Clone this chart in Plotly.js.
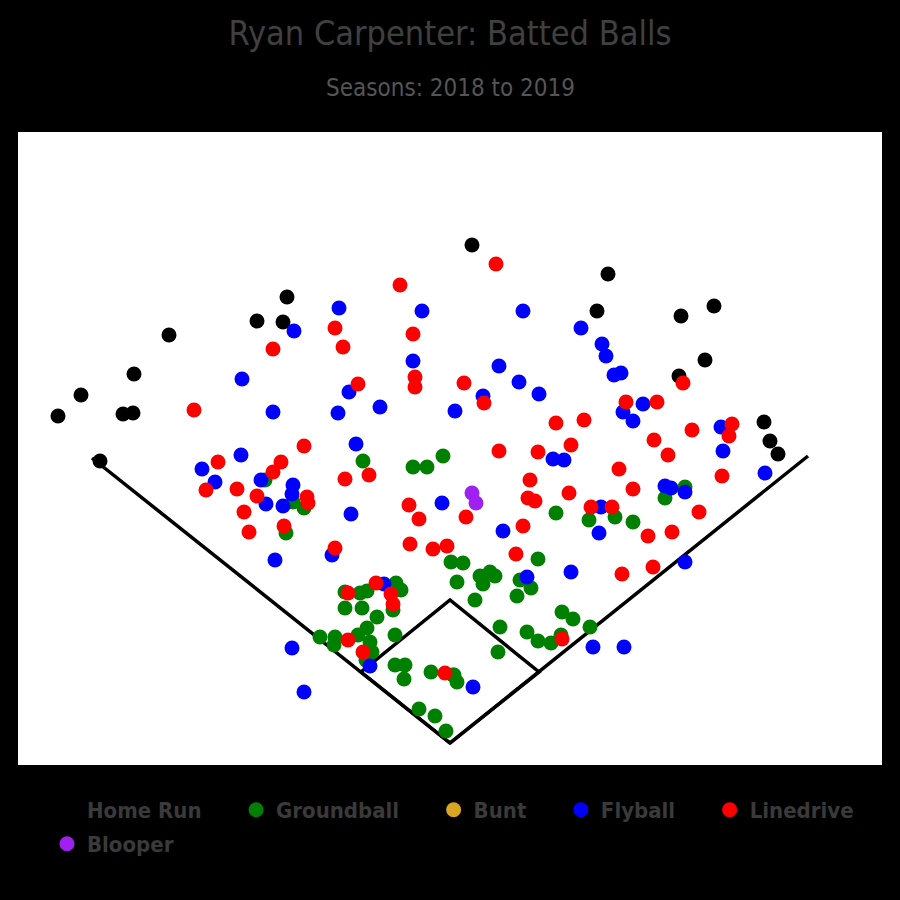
<!DOCTYPE html>
<html>
<head>
<meta charset="utf-8">
<script src="https://cdn.plot.ly/plotly-3.0.1.min.js"></script>
<style>html,body{margin:0;padding:0;background:#000;}#chart{width:900px;height:900px;}</style>
</head>
<body>
<div id="chart"></div>
<script>
// Field outline (foul lines + infield diamond), chart coordinates
const fieldX = [92, 450, 808, null, 450, 539, 450, 361, 450];
const fieldY = [458, 743, 456, null, 743, 672, 600, 672, 743];

// Batted balls by type
const hrX = [472,608,287,257,283,169,134,81,58,123,133,597,681,714,705,679,764,770,778,100];
const hrY = [245,274,297,321,322,335,374,395,416,414,413,311,316,306,360,376,422,441,454,461];

const gbX = [363,413,427,443,265,293,304,286,556,589,615,633,685,665,451,463,457,480,490,495,483,520,531,517,475,538,562,573,590,500,527,538,551,561,498,453,457,431,454,419,435,446,395,405,404,345,360,367,396,401,393,345,362,377,367,320,335,334,358,370,372,366,395];
const gbY = [461,467,467,456,480,502,508,533,513,520,517,522,487,498,562,563,582,576,572,576,584,580,588,596,600,559,612,619,627,627,632,641,643,635,652,675,682,672,675,709,716,731,665,665,679,592,593,591,583,590,610,608,608,617,628,637,637,645,635,642,652,660,635];

const buntX = [];
const buntY = [];

const flyX = [339,294,422,523,242,273,338,413,349,499,519,539,483,380,455,581,602,606,614,621,643,623,633,721,723,765,685,356,241,202,261,215,293,292,283,266,351,442,275,332,384,553,564,665,671,685,601,599,503,571,527,593,624,473,370,292,304];
const flyY = [308,331,311,311,379,412,413,361,392,366,382,394,396,407,411,328,344,356,375,373,404,412,421,427,451,473,562,444,455,469,480,482,485,494,506,504,514,503,560,555,584,459,460,486,488,492,507,533,531,572,577,647,647,687,666,648,692];

const ldX = [496,400,335,273,343,194,413,415,415,358,464,484,556,584,683,626,657,692,732,729,722,304,345,369,218,281,273,206,237,257,307,308,244,249,284,409,419,410,433,447,335,499,538,571,654,668,619,530,633,528,535,569,466,591,612,699,672,648,523,516,622,653,348,376,391,393,348,363,562,445];
const ldY = [264,285,328,349,347,410,334,377,387,384,383,403,423,420,383,402,402,430,424,436,476,446,479,475,462,462,472,490,489,496,497,503,512,532,526,505,519,544,549,546,548,451,452,445,440,455,469,480,489,498,501,493,517,507,507,512,532,536,526,554,574,567,593,583,594,604,640,652,639,673];

const blX = [472,476];
const blY = [493,503];

const categories = ['Home Run','Groundball','Bunt','Flyball','Linedrive','Blooper'];
const colors = ['#000000','#008000','#daa520','#0000ff','#ff0000','#a020f0'];
const legendRow = ['legend','legend','legend','legend','legend','legend2'];
const xs = [hrX, gbX, buntX, flyX, ldX, blX];
const ys = [hrY, gbY, buntY, flyY, ldY, blY];

const pad = '\u00a0\u00a0\u00a0\u00a0\u200a';
const traces = [{
  x: fieldX, y: fieldY, mode: 'lines', type: 'scatter',
  line: {color: '#000000', width: 3.5}, showlegend: false, hoverinfo: 'skip'
}];
categories.forEach((c, i) => {
  const hasData = xs[i].length > 0;
  traces.push({
    x: hasData ? xs[i] : [null], y: hasData ? ys[i] : [null],
    mode: 'markers', type: 'scatter', name: (i < 4 ? c + pad : c), showlegend: true,
    legend: legendRow[i],
    marker: {color: colors[i], size: 15, line: {width: 0}}
  });
});

const legendFont = {family: 'DejaVu Sans Condensed, DejaVu Sans, sans-serif', size: 22, color: '#3a3a3a', weight: 'bold'};

const layout = {
  width: 900, height: 900,
  paper_bgcolor: '#000000', plot_bgcolor: '#ffffff',
  margin: {l: 18, r: 18, t: 132, b: 135},
  title: {
    text: 'Ryan Carpenter: Batted Balls',
    font: {family: 'DejaVu Sans Condensed, DejaVu Sans, sans-serif', size: 34, color: '#404040'},
    x: 0.5, xanchor: 'center', y: 1 - 33/900, yanchor: 'middle'
  },
  annotations: [{
    text: 'Seasons: 2018 to 2019', showarrow: false,
    xref: 'paper', yref: 'paper', x: 0.5, y: (765 - 88) / 633,
    xanchor: 'center', yanchor: 'middle',
    font: {family: 'DejaVu Sans Condensed, DejaVu Sans, sans-serif', size: 24, color: '#555555'}
  }],
  xaxis: {range: [18, 882], showgrid: false, zeroline: false, showticklabels: false, showline: false, ticks: '', fixedrange: true},
  yaxis: {range: [765, 132], showgrid: false, zeroline: false, showticklabels: false, showline: false, ticks: '', fixedrange: true},
  legend: {
    orientation: 'h', x: (47 - 18) / 864, xanchor: 'left', y: (765 - 789) / 633, yanchor: 'top',
    bgcolor: 'rgba(0,0,0,0)', borderwidth: 0, font: legendFont
  },
  legend2: {
    orientation: 'h', x: (47 - 18) / 864, xanchor: 'left', y: (765 - 823) / 633, yanchor: 'top',
    bgcolor: 'rgba(0,0,0,0)', borderwidth: 0, font: legendFont
  },
  showlegend: true
};

Plotly.newPlot('chart', traces, layout, {displayModeBar: false, staticPlot: true});
</script>
</body>
</html>
